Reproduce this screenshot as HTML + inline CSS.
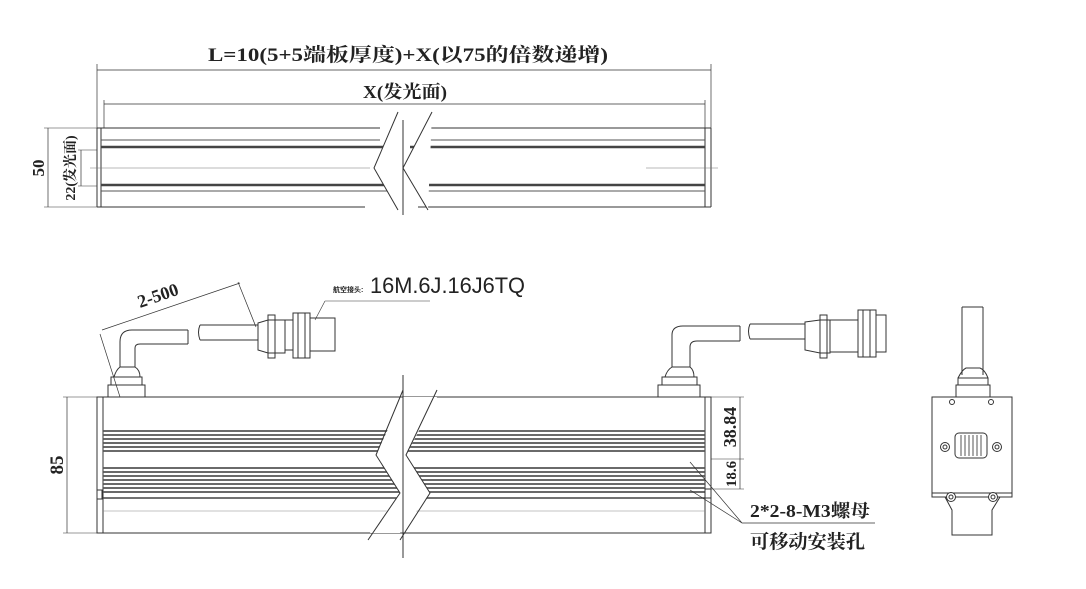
<!DOCTYPE html>
<html><head><meta charset="utf-8"><style>
body{margin:0;background:#fff;}
svg{display:block;}
text{font-family:"Liberation Serif","Noto Serif CJK SC",serif;font-weight:bold;fill:#222;}
</style></head><body>
<svg width="1086" height="589" viewBox="0 0 1086 589" xmlns="http://www.w3.org/2000/svg">
<g stroke="#333" fill="none" stroke-width="1">
<line x1="97" y1="64" x2="97" y2="128" stroke-width="0.7"/>
<line x1="711" y1="64" x2="711" y2="128" stroke-width="0.7"/>
<line x1="97" y1="70" x2="711" y2="70" stroke-width="0.7"/>
<line x1="104" y1="104" x2="705" y2="104" stroke-width="0.7"/>
<line x1="104" y1="100" x2="104" y2="128" stroke-width="0.7"/>
<line x1="705" y1="100" x2="705" y2="128" stroke-width="0.7"/>
<path d="M97 128 H380 M425 128 H711 M97 207 H365 M418 207 H711"/>
<path d="M97 128 V207 M711 128 V207 M101 128 V207 M705 128 V207"/>
<path d="M101 140 H380 M422 140 H705 M101 191 H390 M420 191 H705" stroke="#555"/>
<path d="M101 147 H385 M410 147 H705 M101 185 H395 M415 185 H705" stroke="#444" stroke-width="2.5"/>
<line x1="90" y1="168" x2="370" y2="168" stroke="#777" stroke-width="0.6"/>
<line x1="646" y1="168" x2="718" y2="168" stroke="#777" stroke-width="0.6"/>
<path d="M398 112 L374 168 L398 210 M432 112 L403 168 L428 210" fill="#fff" stroke="#333"/>
<line x1="403" y1="120" x2="403" y2="215" stroke="#333"/>
<line x1="48" y1="128" x2="48" y2="207" stroke-width="0.7"/>
<line x1="44" y1="128" x2="97" y2="128" stroke-width="0.6"/>
<line x1="44" y1="207" x2="97" y2="207" stroke-width="0.6"/>
<line x1="81" y1="150" x2="81" y2="186" stroke-width="0.7"/>
<line x1="78" y1="150" x2="97" y2="150" stroke-width="0.6"/>
<line x1="78" y1="186" x2="97" y2="186" stroke-width="0.6"/>

<rect x="97" y="397" width="614" height="136" fill="#fff"/>
<line x1="103" y1="397" x2="103" y2="533"/>
<line x1="705" y1="397" x2="705" y2="533"/>
<g stroke="#555" stroke-width="1.8">
<path d="M103 431H705 M103 435H705 M103 439H705 M103 443H705 M103 447H705 M103 451H705"/>
<path d="M103 468H705 M103 472H705 M103 476H705 M103 480H705 M103 484H705 M103 488H705 M103 492H705"/>
</g>
<line x1="103" y1="498" x2="705" y2="498" stroke="#444" stroke-width="1.5"/>
<line x1="103" y1="511" x2="705" y2="511" stroke="#888" stroke-width="0.6"/>
<rect x="97" y="490" width="5" height="9" fill="#fff"/>
<rect x="705" y="489" width="6" height="9" fill="#fff"/>
<path d="M403 397 L376 455 L400 493 L370 533 L400 533 L430 493 L406 455 L437 397 Z" fill="#fff" stroke="none"/>
<path d="M403 390 L376 455 L400 493 L368 540 M437 390 L406 455 L430 493 L400 540"/>
<line x1="403" y1="375" x2="403" y2="558"/>
<line x1="67" y1="397" x2="67" y2="533" stroke-width="0.7"/>
<line x1="63" y1="397" x2="97" y2="397" stroke-width="0.6"/>
<line x1="63" y1="533" x2="97" y2="533" stroke-width="0.6"/>
<line x1="711" y1="397" x2="744" y2="397" stroke-width="0.6"/>
<line x1="711" y1="459" x2="744" y2="459" stroke-width="0.6"/>
<line x1="711" y1="489" x2="744" y2="489" stroke-width="0.6"/>
<line x1="740" y1="397" x2="740" y2="489" stroke-width="0.7"/>
<path d="M690 462 L742 523 H875 M690 490 L742 523" stroke-width="0.7"/>

<path d="M108 397 V385 H145 V397 M111 385 V377 H142 V385 M114 377 Q116 370 120 367 H135 Q140 370 140 377"/>
<path d="M120 367 V342 Q120 330 132 330 H188 M135 367 V348 Q135 344 140 344 H188 M188 330 V344"/>
<path d="M200 325 H258 M200 340 H258 M200 325 Q197 332 200 340"/>
<path d="M258 323 L268 320 H285 V353 H268 L258 350 Z M268 315 H275 V358 H268 Z M285 320 H293 V350 H285"/>
<path d="M293 313 H310 V358 H293 Z M298 313 V358 M305 313 V358 M310 318 H335 V351 H310"/>
<path d="M102 330 L240 283 M100 334 L120 397 M238 282 L256 327" stroke-width="0.7"/>
<line x1="325" y1="301" x2="430" y2="301" stroke-width="0.6"/>
<line x1="325" y1="301" x2="315" y2="320" stroke-width="0.6"/>

<path d="M658 397 V385 H700 V397 M662 385 V377 H697 V385 M665 377 Q667 370 672 367 H690 Q694 370 694 377"/>
<path d="M672 367 V335 Q672 326 683 326 H740 M690 367 V347 Q690 341 697 341 H740 M740 326 V341"/>
<path d="M750 324 H805 M750 339 H805 M750 324 Q747 331 750 339"/>
<path d="M805 322 L820 320 H830 V353 H820 L805 350 Z M820 315 H827 V358 H820 Z"/>
<path d="M858 310 H876 V357 H858 Z M863 310 V357 M870 310 V357 M876 315 H886 V352 H876 M830 320 H858 M830 352 H858"/>

<path d="M962 307 V375 M983 307 V375 M962 307 H983"/>
<path d="M956 397 V385 H990 V397 M958 385 V378 H988 V385 M958 378 Q962 370 966 368 H980 Q985 370 988 378"/>
<rect x="932" y="397" width="80" height="100" fill="#fff"/>
<line x1="932" y1="493" x2="1012" y2="493"/>
<path d="M945 497 L952 510 V535 H992 V510 L1000 497"/>
<rect x="955" y="433" width="32" height="25" rx="4" fill="#fff"/>
<path d="M961 435 V456 M965 435 V456 M969 435 V456 M973 435 V456 M977 435 V456 M981 435 V456" stroke="#555"/>
<g fill="#fff"><circle cx="945" cy="447" r="4.5"/><circle cx="945" cy="447" r="2"/>
<circle cx="997" cy="447" r="4.5"/><circle cx="997" cy="447" r="2"/>
<circle cx="951" cy="497" r="4.5"/><circle cx="951" cy="497" r="2"/>
<circle cx="993" cy="497" r="4.5"/><circle cx="993" cy="497" r="2"/>
<circle cx="952" cy="402" r="2.5"/><circle cx="991" cy="402" r="2.5"/></g>
</g>

<text x="208" y="61" font-size="19" textLength="400" lengthAdjust="spacingAndGlyphs">L=10(5+5端板厚度)+X(以75的倍数递增)</text>
<text x="363" y="98" font-size="18" textLength="84" lengthAdjust="spacingAndGlyphs">X(发光面)</text>
<text transform="translate(44,168) rotate(-90)" font-size="17" text-anchor="middle">50</text>
<text transform="translate(75,168) rotate(-90)" font-size="14" text-anchor="middle">22(发光面)</text>
<text transform="translate(63,465) rotate(-90)" font-size="19" text-anchor="middle">85</text>
<text transform="translate(736,427) rotate(-90)" font-size="18" text-anchor="middle">38.84</text>
<text transform="translate(736,474) rotate(-90)" font-size="15" text-anchor="middle">18.6</text>
<text transform="translate(140,308) rotate(-19)" font-size="18">2-500</text>
<text x="333" y="292" font-size="7" style="font-family:'Liberation Sans','Noto Sans CJK SC',sans-serif">航空接头:</text>
<text x="370" y="293" font-size="22" textLength="155" lengthAdjust="spacingAndGlyphs" style="font-family:'Liberation Sans',sans-serif;font-weight:normal">16M.6J.16J6TQ</text>
<text x="750" y="517" font-size="18" textLength="120" lengthAdjust="spacingAndGlyphs">2*2-8-M3螺母</text>
<text x="750" y="548" font-size="19" textLength="115" lengthAdjust="spacingAndGlyphs">可移动安装孔</text>
</svg>
</body></html>
